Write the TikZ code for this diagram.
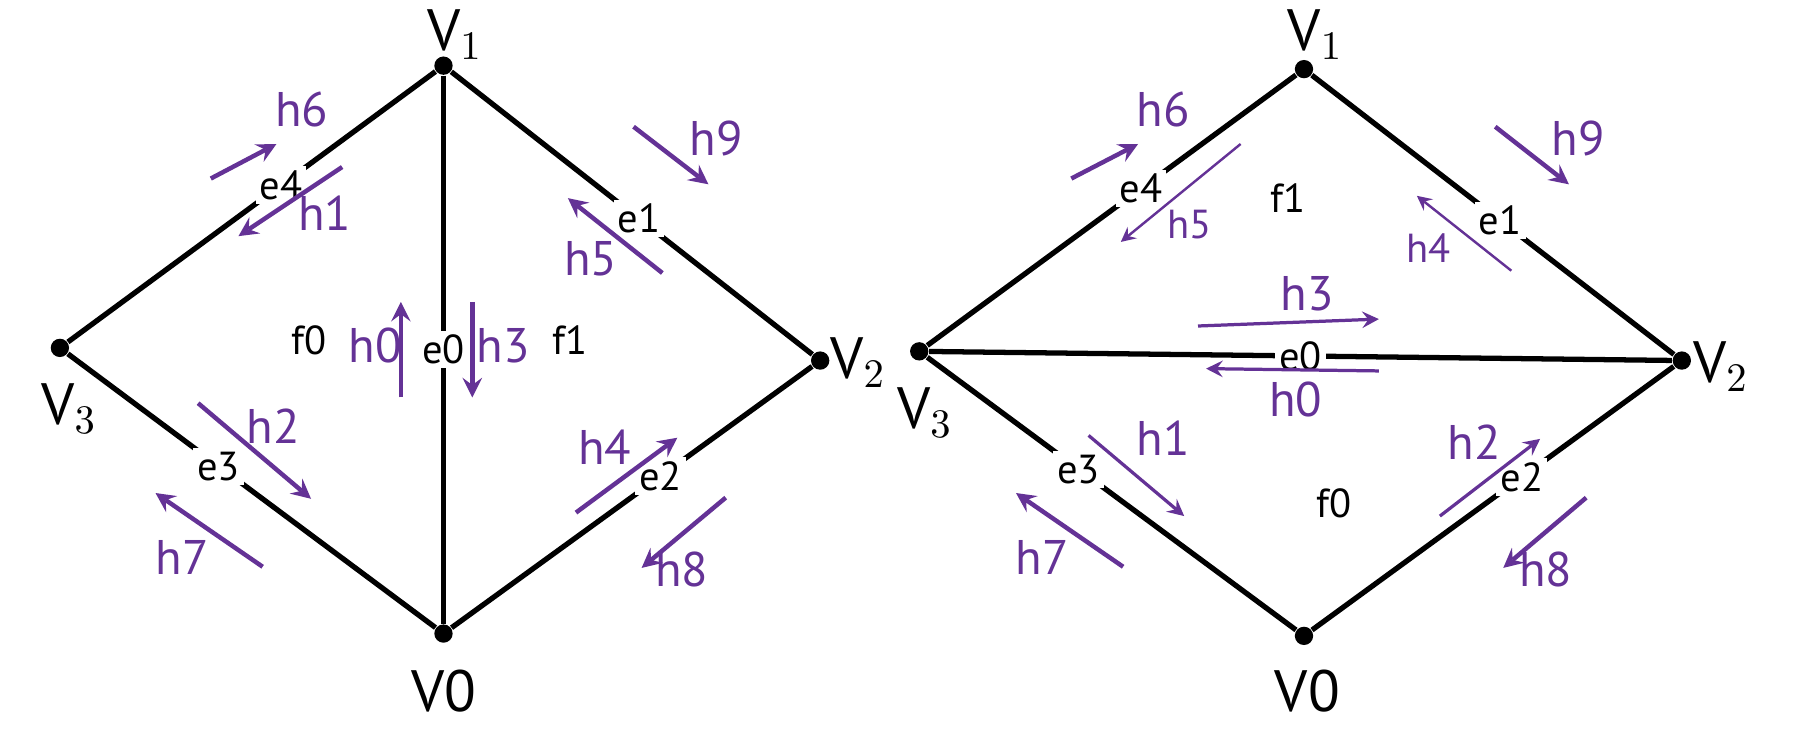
\documentclass[tikz,border=0pt]{standalone}
\usepackage{fontspec}
\setmainfont{PT Sans}
\usetikzlibrary{calc}
\definecolor{hpurple}{RGB}{100,50,150}
\tikzset{
 vert/.style = {circle, fill, inner sep=1.6pt},
 vlabel/.style = {font=\Large},
 edge/.style = {line width=1.3pt},
 elabel/.style = {fill=white, inner sep=1pt},
 half/.style = {hpurple, line width=1.1pt, -stealth},
 hlabel/.style = {text=hpurple, font=\large},
}
\begin{document}
\begin{tikzpicture}[x=0.01cm, y=-0.01cm]
 \useasboundingbox (0,0) rectangle (1560,636);
 % linke Seite
 \node[vert] (A1) at (385,57) {};
 \node[vert] (A0) at (385,550) {};
 \node[vert] (A3) at (52,302) {};
 \node[vert] (A2) at (712,313) {};
 \node[vlabel] at (395,30) {V$_1$};
 \node[vlabel] at (385,600) {V0};
 \node[vlabel] at (60,355) {V$_3$};
 \node[vlabel] at (745,315) {V$_2$};
 \draw[edge] (A1) -- node[elabel, pos=.42] {e4} (A3);
 \draw[edge] (A1) -- node[elabel, pos=.52] {e1} (A2);
 \draw[edge] (A3) -- node[elabel, pos=.41] {e3} (A0);
 \draw[edge] (A2) -- node[elabel, pos=.42] {e2} (A0);
 \draw[edge] (A1) -- node[elabel] {e0} (A0);
 \node at (268,295) {f0};
 \node at (495,295) {f1};
 \draw[half] (183,155) -- (240,125); \node[hlabel] at (262,95) {h6};
 \draw[half] (297,145) -- (207,205); \node[hlabel] at (282,185) {h1};
 \draw[half] (550,110) -- (615,160); \node[hlabel] at (622,120) {h9};
 \draw[half] (575,237) -- (493,172); \node[hlabel] at (513,225) {h5};
 \draw[half] (348,345) -- (348,262); \node[hlabel] at (326,300) {h0};
 \draw[half] (410,262) -- (410,345); \node[hlabel] at (437,300) {h3};
 \draw[half] (172,350) -- (270,433); \node[hlabel] at (237,370) {h2};
 \draw[half] (228,492) -- (135,428); \node[hlabel] at (158,484) {h7};
 \draw[half] (500,445) -- (588,380); \node[hlabel] at (525,388) {h4};
 \draw[half] (630,432) -- (557,493); \node[hlabel] at (592,494) {h8};
 % rechte Seite
 \node[vert] (B1) at (1132,60) {};
 \node[vert] (B0) at (1132,552) {};
 \node[vert] (B3) at (798,305) {};
 \node[vert] (B2) at (1460,313) {};
 \node[vlabel] at (1142,30) {V$_1$};
 \node[vlabel] at (1135,600) {V0};
 \node[vlabel] at (803,358) {V$_3$};
 \node[vlabel] at (1494,318) {V$_2$};
 \draw[edge] (B1) -- node[elabel, pos=.42] {e4} (B3);
 \draw[edge] (B1) -- node[elabel, pos=.52] {e1} (B2);
 \draw[edge] (B3) -- node[elabel, pos=.41] {e3} (B0);
 \draw[edge] (B2) -- node[elabel, pos=.42] {e2} (B0);
 \draw[edge] (B3) -- node[elabel, pos=.5] {e0} (B2);
 \node at (1118,172) {f1};
 \node at (1158,437) {f0};
 \draw[half] (930,155) -- (988,125); \node[hlabel] at (1010,95) {h6};
 \draw[half, line width=.6pt] (1077,125) -- (973,210); \node[hlabel, font=\normalsize] at (1033,195) {h5};
 \draw[half] (1298,110) -- (1362,160); \node[hlabel] at (1370,120) {h9};
 \draw[half, line width=.6pt] (1312,235) -- (1230,170); \node[hlabel, font=\normalsize] at (1240,215) {h4};
 \draw[half, line width=.8pt] (1040,283) -- (1197,277); \node[hlabel] at (1135,255) {h3};
 \draw[half, line width=.8pt] (1197,322) -- (1047,320); \node[hlabel] at (1125,347) {h0};
 \draw[half, line width=.8pt] (945,378) -- (1028,448); \node[hlabel] at (1010,380) {h1};
 \draw[half] (975,492) -- (882,428); \node[hlabel] at (905,484) {h7};
 \draw[half, line width=.8pt] (1250,448) -- (1337,381); \node[hlabel] at (1280,384) {h2};
 \draw[half] (1377,432) -- (1305,493); \node[hlabel] at (1342,494) {h8};
\end{tikzpicture}
\end{document}
